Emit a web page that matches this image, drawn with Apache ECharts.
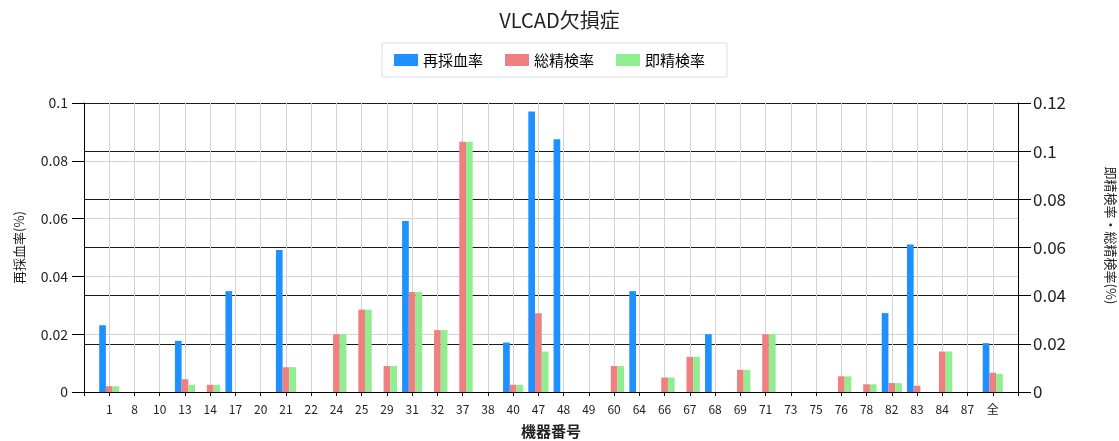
<!DOCTYPE html>
<html>
<head>
<meta charset="utf-8">
<title>VLCAD欠損症</title>
<script src="https://cdn.jsdelivr.net/npm/echarts@6/dist/echarts.min.js"></script>
<style>
  html, body { margin: 0; padding: 0; background: #fff; }
  #chart { width: 1119px; height: 441px; }
</style>
</head>
<body>
<div id="chart"></div>
<script>
// ─────────────────────────────────────────
// DATA
// ─────────────────────────────────────────
const categories = ['1', '8', '10', '13', '14', '17', '20', '21', '22', '24', '25', '29', '31', '32', '37', '38', '40', '47', '48', '49', '60', '64', '66', '67', '68', '69', '71', '73', '75', '76', '78', '82', '83', '84', '87', '全']

// 再採血率 (left axis)
const resampleRate = [0.0231, 0, 0, 0.0177, 0, 0.0349, 0, 0.0491, 0, 0, 0, 0, 0.0592, 0, 0, 0, 0.0171, 0.0971, 0.0875, 0, 0, 0.0349, 0, 0, 0.0200, 0, 0, 0, 0, 0, 0, 0.0273, 0.0510, 0, 0, 0.0169]
// 総精検率 (right axis)
const totalRate = [0.0024, 0, 0, 0.0053, 0.0030, 0, 0, 0.0103, 0, 0.0240, 0.0342, 0.0108, 0.0415, 0.0257, 0.1039, 0, 0.0030, 0.0327, 0, 0, 0.0108, 0, 0.0060, 0.0146, 0, 0.0092, 0.0240, 0, 0, 0.0065, 0.0032, 0.0037, 0.0026, 0.0168, 0, 0.0080]
// 即精検率 (right axis)
const immediateRate = [0.0024, 0, 0, 0.0030, 0.0030, 0, 0, 0.0103, 0, 0.0240, 0.0342, 0.0108, 0.0415, 0.0257, 0.1039, 0, 0.0030, 0.0168, 0, 0, 0.0108, 0, 0.0060, 0.0146, 0, 0.0092, 0.0240, 0, 0, 0.0065, 0.0032, 0.0037, 0, 0.0168, 0, 0.0075]

const leftMax = 0.1
const rightMax = 0.12
const tickStep = 0.02

// ─────────────────────────────────────────
// STYLE
// ─────────────────────────────────────────
const FONT = "'Noto Sans CJK JP', 'Noto Sans', sans-serif"
const colors = { blue: '#1E90FF', pink: '#F08080', green: '#90EE90' }

// empty slot on each side so the groups sit one band in from the axes
const pad = arr => [null, ...arr, null]
const xCats = pad(categories).map(c => c == null ? '' : c)

const chart = echarts.init(document.getElementById('chart'))

const barCommon = {
  type: 'bar',
  barWidth: 6.7,
  barGap: '0%',
  animation: false,
}

chart.setOption({
  animation: false,
  textStyle: { fontFamily: FONT },
  title: {
    text: 'VLCAD欠損症',
    left: 'center',
    top: 5,
    textStyle: { fontFamily: FONT, fontSize: 20, fontWeight: 'normal', color: '#222' },
  },
  legend: {
    left: 382,
    top: 43,
    icon: 'rect',
    itemWidth: 24,
    itemHeight: 12,
    itemGap: 22,
    padding: [8, 22, 8, 12],
    borderColor: '#dddddd',
    borderWidth: 1,
    textStyle: { fontFamily: FONT, fontSize: 15, color: '#000', lineHeight: 18 },
    data: ['再採血率', '総精検率', '即精検率'],
  },
  grid: { left: 84, right: 101, top: 103, bottom: 49, containLabel: false, outerBoundsMode: 'none' },
  xAxis: {
    type: 'category',
    data: xCats,
    boundaryGap: false,
    name: '機器番号',
    nameLocation: 'middle',
    nameGap: 32,
    nameTextStyle: { fontFamily: FONT, fontSize: 15, fontWeight: 'bold', color: '#222' },
    axisLine: { lineStyle: { color: '#000', width: 1 } },
    axisTick: { show: true, interval: 0, length: 4, lineStyle: { color: '#000' } },
    axisLabel: { interval: 0, fontSize: 12, color: '#222', margin: 11 },
    splitLine: { show: true, interval: 0, lineStyle: { color: '#d3d3d3', width: 1 } },
  },
  yAxis: [
    {
      type: 'value',
      position: 'left',
      min: 0,
      max: leftMax,
      interval: tickStep,
      name: '再採血率(%)',
      nameLocation: 'middle',
      nameGap: 58,
      nameTextStyle: { fontFamily: FONT, fontSize: 13, color: '#222' },
      axisLine: { show: true, lineStyle: { color: '#000', width: 1 } },
      axisTick: { show: true, length: 12, lineStyle: { color: '#000' } },
      axisLabel: { fontSize: 14, color: '#222', margin: 16 },
      splitLine: { show: true, lineStyle: { color: '#d3d3d3', width: 1 } },
    },
    {
      type: 'value',
      position: 'right',
      min: 0,
      max: rightMax,
      interval: tickStep,
      name: '即精検率・総精検率(%)',
      nameLocation: 'middle',
      nameRotate: -90,
      nameGap: 86,
      nameTextStyle: { fontFamily: FONT, fontSize: 13, color: '#222', padding: [0, 24, 0, 0] },
      axisLine: { show: true, lineStyle: { color: '#000', width: 1 } },
      axisTick: { show: true, length: 13, lineStyle: { color: '#000' } },
      axisLabel: { fontSize: 17, color: '#222', margin: 15 },
      splitLine: { show: true, lineStyle: { color: '#1a1a1a', width: 1 } },
    },
  ],
  series: [
    { ...barCommon, name: '再採血率', yAxisIndex: 0, data: pad(resampleRate), itemStyle: { color: colors.blue } },
    { ...barCommon, name: '総精検率', yAxisIndex: 1, data: pad(totalRate), itemStyle: { color: colors.pink } },
    { ...barCommon, name: '即精検率', yAxisIndex: 1, data: pad(immediateRate), itemStyle: { color: colors.green } },
  ],
})
</script>
</body>
</html>
